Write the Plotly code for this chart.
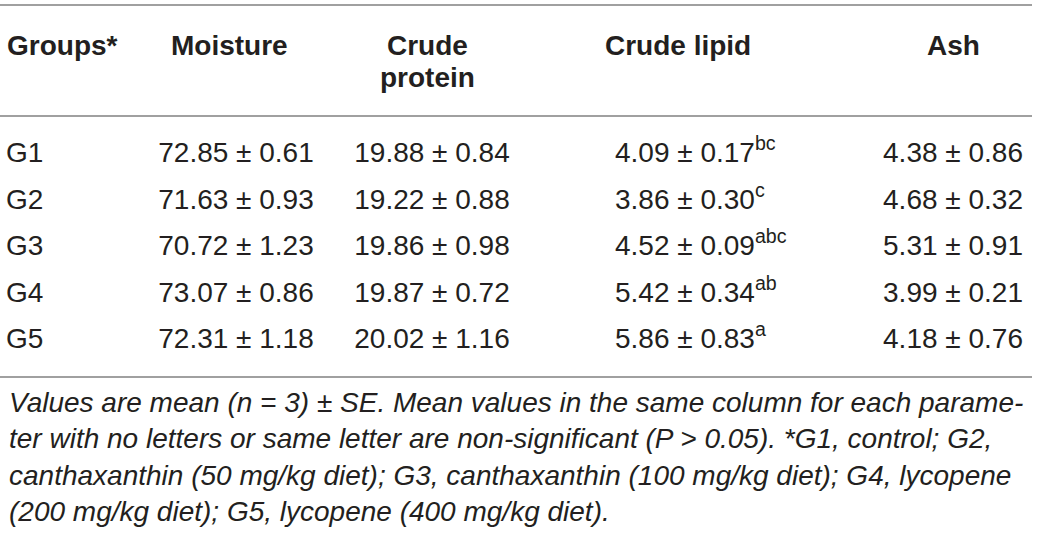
import plotly.graph_objects as go

# table values
groups = ['G1', 'G2', 'G3', 'G4', 'G5']
moisture_mean = [72.85, 71.63, 70.72, 73.07, 72.31]
moisture_se = [0.61, 0.93, 1.23, 0.86, 1.18]
protein_mean = [19.88, 19.22, 19.86, 19.87, 20.02]
protein_se = [0.84, 0.88, 0.98, 0.72, 1.16]
lipid_mean = [4.09, 3.86, 4.52, 5.42, 5.86]
lipid_se = [0.17, 0.30, 0.09, 0.34, 0.83]
lipid_letters = ['bc', 'c', 'abc', 'ab', 'a']
ash_mean = [4.38, 4.68, 5.31, 3.99, 4.18]
ash_se = [0.86, 0.32, 0.91, 0.21, 0.76]

headers = ['Groups*', 'Moisture', 'Crude<br>protein', 'Crude lipid', 'Ash']

footnote = [
    'Values are mean (n = 3) ± SE. Mean values in the same column for each parame-',
    'ter with no letters or same letter are non-significant (P > 0.05). *G1, control; G2,',
    'canthaxanthin (50 mg/kg diet); G3, canthaxanthin (100 mg/kg diet); G4, lycopene',
    '(200 mg/kg diet); G5, lycopene (400 mg/kg diet).',
]

# layout (pixels of the 1039x537 page)
W, H = 1039, 537
ROW0, STEP = 155, 46.5
FONT = 'Liberation Sans, Arial, sans-serif'
INK = '#231f20'
RULE = '#a0a0a0'
SIZE = 28


def row_y(px):
    return (px - ROW0) / STEP


rows = list(range(len(groups)))

columns = [
    # (anchor x, textposition, texts)
    (6, 'middle right', groups),
    (236, 'middle center', [f'{m:.2f} ± {s:.2f}' for m, s in zip(moisture_mean, moisture_se)]),
    (432, 'middle center', [f'{m:.2f} ± {s:.2f}' for m, s in zip(protein_mean, protein_se)]),
    (615, 'middle right', [f'{m:.2f} ± {s:.2f}<sup>{l}</sup>'
                           for m, s, l in zip(lipid_mean, lipid_se, lipid_letters)]),
    (953, 'middle center', [f'{m:.2f} ± {s:.2f}' for m, s in zip(ash_mean, ash_se)]),
]

fig = go.Figure()
for x, pos, texts in columns:
    fig.add_trace(go.Scatter(
        x=[x] * len(texts), y=rows, mode='text', text=texts,
        textposition=pos, marker={'size': 1},
        textfont={'family': FONT, 'size': SIZE, 'color': INK},
        hoverinfo='skip', showlegend=False,
    ))

# header labels
header_x = [(5, 'left'), (229, 'center'), (427, 'center'), (678, 'center'), (953, 'center')]
for (x, anchor), label in zip(header_x, headers):
    for i, line in enumerate(label.split('<br>')):
        fig.add_annotation(
            x=x, y=row_y(45), xanchor=anchor, yanchor='middle', yshift=-32 * i,
            text=f'<b>{line}</b>', showarrow=False,
            font={'family': FONT, 'size': SIZE, 'color': INK},
        )

# footnote
fig.add_annotation(
    x=7, y=row_y(385), xanchor='left', yanchor='top', align='left',
    text='<i>' + '<br>'.join(footnote) + '</i>', showarrow=False,
    font={'family': FONT, 'size': SIZE, 'color': INK},
)

# horizontal rules
for px in [5, 116, 377]:
    fig.add_shape(type='line', xref='x', yref='y', x0=0, x1=1032,
                  y0=row_y(px), y1=row_y(px), line={'color': RULE, 'width': 2})

fig.update_layout(
    width=W, height=H,
    margin={'l': 0, 'r': 0, 't': 0, 'b': 0},
    paper_bgcolor='white', plot_bgcolor='white',
    xaxis={'range': [0, W], 'visible': False, 'fixedrange': True},
    yaxis={'range': [row_y(H), row_y(0)], 'visible': False, 'fixedrange': True},
)
fig.write_html('out.html', config={'displayModeBar': False},
               post_script="document.body.style.margin = '0';")
